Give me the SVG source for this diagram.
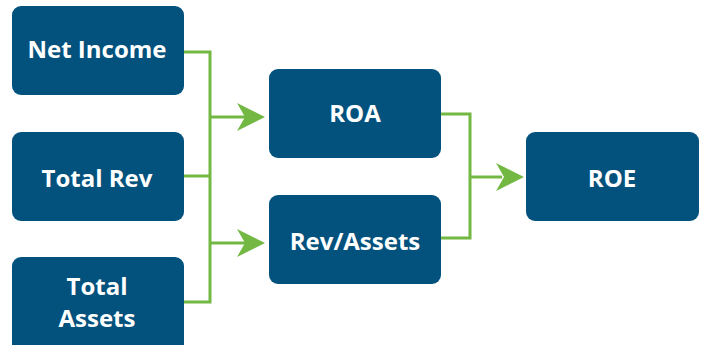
<svg xmlns="http://www.w3.org/2000/svg" width="704" height="345" viewBox="0 0 704 345">
<defs>
<style>
.box{fill:#03527e}
.lbl{font-family:"Open Sans","DejaVu Sans",sans-serif;font-weight:700;font-size:24px;fill:#ffffff;text-anchor:middle;dominant-baseline:central}
.ln{fill:none;stroke:#72b843;stroke-width:3}
.ah{fill:#72b843}
</style>
</defs>
<rect width="704" height="345" fill="#ffffff"/>
<g id="connectors">
<polyline class="ln" points="184,52 210,52 210,302 184,302"/>
<line class="ln" x1="184" y1="176" x2="210" y2="176"/>
<line class="ln" x1="210" y1="117" x2="245" y2="117"/>
<line class="ln" x1="210" y1="243" x2="245" y2="243"/>
<polygon class="ah" points="265,117 237,103 245,117 237,131"/>
<polygon class="ah" points="265,243 237,229 245,243 237,257"/>
<polyline class="ln" points="441,114 470,114 470,238 441,238"/>
<line class="ln" x1="470" y1="177" x2="502" y2="177"/>
<polygon class="ah" points="524,177 496,163 504,177 496,191"/>
</g>
<g id="net-income"><rect class="box" x="12" y="6" width="172" height="89" rx="9"/><text class="lbl" x="97" y="48">Net Income</text></g>
<g id="total-rev"><rect class="box" x="12" y="132" width="172" height="89" rx="9"/><text class="lbl" x="97" y="177">Total Rev</text></g>
<g id="total-assets"><rect class="box" x="12" y="257" width="172" height="100" rx="9"/><text class="lbl" x="97" y="285">Total</text><text class="lbl" x="97" y="317">Assets</text></g>
<g id="roa"><rect class="box" x="269" y="69" width="172" height="89" rx="9"/><text class="lbl" x="355" y="112">ROA</text></g>
<g id="rev-assets"><rect class="box" x="269" y="195" width="172" height="89" rx="9"/><text class="lbl" x="355" y="240">Rev/Assets</text></g>
<g id="roe"><rect class="box" x="526" y="132" width="173" height="89" rx="9"/><text class="lbl" x="612" y="177">ROE</text></g>
</svg>
